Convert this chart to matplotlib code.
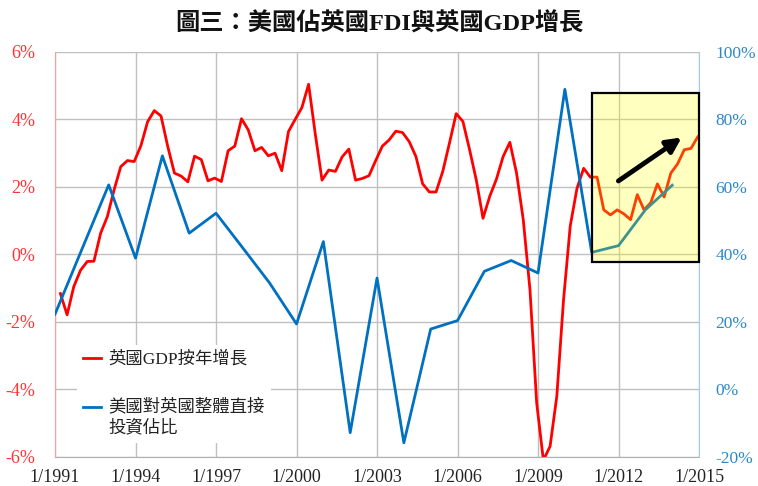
import numpy as np
import matplotlib.pyplot as plt
from matplotlib.legend_handler import HandlerLine2D
from matplotlib.patches import Rectangle

plt.rcParams['font.family'] = ['Liberation Serif', 'Noto Sans CJK TC', 'DejaVu Sans']

# 英國GDP按年增長 (%), quarterly from Q2 1991
gdp_growth = [-1.16, -1.79, -0.95, -0.47, -0.21, -0.20, 0.63, 1.12, 1.91, 2.60,
              2.78, 2.75, 3.22, 3.93, 4.26, 4.10, 3.20, 2.41, 2.32, 2.15,
              2.91, 2.81, 2.18, 2.26, 2.16, 3.07, 3.21, 4.02, 3.69, 3.07,
              3.17, 2.92, 3.00, 2.48, 3.64, 4.00, 4.35, 5.04, 3.56, 2.20,
              2.50, 2.46, 2.89, 3.12, 2.20, 2.25, 2.33, 2.78, 3.21, 3.39,
              3.65, 3.61, 3.34, 2.90, 2.09, 1.85, 1.85, 2.46, 3.30, 4.17,
              3.94, 3.10, 2.20, 1.07, 1.72, 2.23, 2.90, 3.32, 2.41, 1.03,
              -1.05, -4.40, -6.10, -5.68, -4.20, -1.35, 0.84, 1.95, 2.55, 2.29,
              2.29, 1.32, 1.17, 1.32, 1.20, 1.03, 1.77, 1.32, 1.53, 2.09,
              1.70, 2.41, 2.68, 3.10, 3.14, 3.48]
gdp_x = 1991.2 + 0.25 * np.arange(len(gdp_growth))

# 美國對英國整體直接投資佔比 (%), yearly
fdi_years = list(range(1991, 2015))
fdi_share = [22.3, 41.5, 60.6, 38.9, 69.2, 46.3, 52.2, 41.9, 31.5, 19.4,
             43.8, -12.8, 33.0, -15.8, 17.9, 20.4, 35.0, 38.2, 34.5, 88.9,
             40.6, 42.6, 53.2, 60.5]

x_ticks = list(range(1991, 2016, 3))
x_labels = ['1/%d' % y for y in x_ticks]
left_ticks = list(range(-6, 7, 2))
right_ticks = list(range(-20, 101, 20))

title = '圖三：美國佔英國FDI與英國GDP增長'
label_gdp = '英國GDP按年增長'
label_fdi = '美國對英國整體直接\n投資佔比'

RED = '#FF0000'
BLUE = '#0070C0'


class RaisedLine(HandlerLine2D):
    # put the sample line next to the first line of a two-line label
    def __init__(self, shift, **kw):
        super().__init__(**kw)
        self.shift = shift

    def create_artists(self, legend, orig_handle, xdescent, ydescent,
                       width, height, fontsize, trans):
        return super().create_artists(legend, orig_handle, xdescent,
                                      ydescent - 2 * self.shift, width,
                                      height, fontsize, trans)


fig = plt.figure(figsize=(7.58, 4.86), dpi=100)
ax = fig.add_axes([0.0726, 0.0597, 0.8496, 0.8336])
ax2 = ax.twinx()

l1, = ax.plot(gdp_x, gdp_growth, color=RED, lw=2, label=label_gdp)
l2, = ax2.plot(fdi_years, fdi_share, color=BLUE, lw=2, label=label_fdi)

ax.set_xlim(1991, 2015)
ax.set_ylim(-6, 6)
ax2.set_ylim(-20, 100)
ax.set_xticks(x_ticks)
ax.set_xticklabels(x_labels)
ax.set_yticks(left_ticks)
ax.set_yticklabels(['%d%%' % v for v in left_ticks])
ax2.set_yticks(right_ticks)
ax2.set_yticklabels(['%d%%' % v for v in right_ticks])

ax.grid(color='#C0C0C0', lw=1)
ax.set_axisbelow(True)
ax.tick_params(axis='x', length=0, pad=9, labelsize=13, colors='#222222')
ax.tick_params(axis='y', length=0, pad=14, labelsize=13, colors='#FF3333')
ax2.tick_params(axis='y', length=0, pad=12, labelsize=12.5, colors='#2E88C8')

for s in ['top', 'right']:
    ax.spines[s].set_visible(False)
ax.spines['left'].set_color('#FF9C9C')
ax.spines['bottom'].set_color('#B0B0B0')
for s in ['top', 'left', 'bottom']:
    ax2.spines[s].set_visible(False)
ax2.spines['right'].set_color('#A8CBEA')

# highlighted recent period
box = Rectangle((2011, 37.8), 4, 50, facecolor=(1, 1, 0, 0.25),
                edgecolor='black', lw=1.6, zorder=4, clip_on=False)
ax2.add_patch(box)
ax2.annotate('', xy=(2014.44, 75.1), xytext=(2011.91, 61.3),
             arrowprops=dict(arrowstyle='-|>', color='black', lw=3.5,
                             mutation_scale=22), zorder=5)

leg = ax2.legend([l1, l2], [label_gdp, label_fdi], loc='upper left',
                 bbox_to_anchor=(0.021, 0.298), fontsize=12.5,
                 handlelength=1.0, handletextpad=0.45, labelspacing=1.75,
                 borderpad=0.35, frameon=True, fancybox=False,
                 edgecolor='none', facecolor='white', framealpha=1,
                 handler_map={l2: RaisedLine(7.5)})
leg.set_zorder(6)
for t in leg.get_texts():
    t.set_color('#222222')
    t.set_linespacing(1.38)

fig.text(0.5, 0.95, title, ha='center', va='center', fontsize=17.5,
         fontweight='bold', color='#111111')

fig.savefig('out.png', dpi=100)
